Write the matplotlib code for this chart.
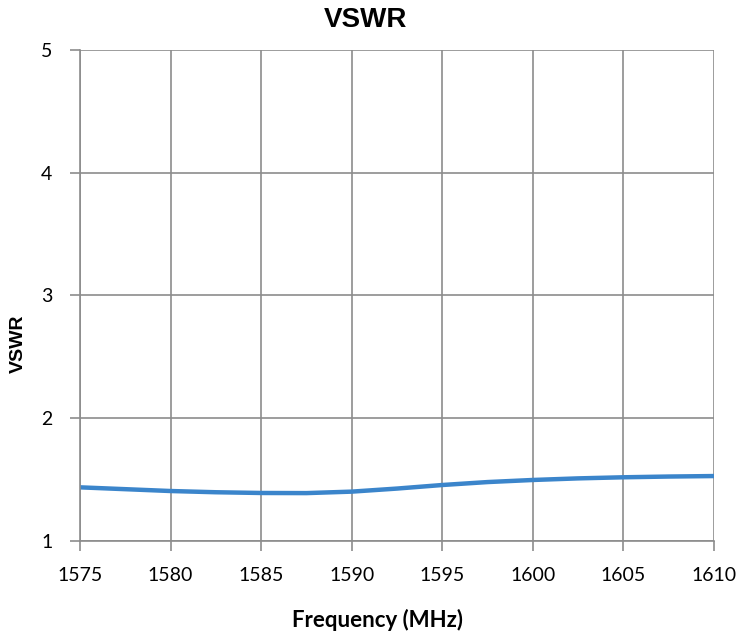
import matplotlib
matplotlib.use("Agg")
import matplotlib.pyplot as plt

freq = [1575, 1577.5, 1580, 1582.5, 1585, 1587.5, 1590, 1592.5, 1595, 1597.5, 1600, 1602.5, 1605, 1607.5, 1610]
vswr = [1.435, 1.42, 1.405, 1.395, 1.389, 1.388, 1.40, 1.425, 1.454, 1.478, 1.495, 1.508, 1.517, 1.523, 1.527]
xticks = [1575, 1580, 1585, 1590, 1595, 1600, 1605, 1610]
yticks = [1, 2, 3, 4, 5]

fig = plt.figure(figsize=(7.38, 6.38), dpi=100)
ax = fig.add_axes([80/738, 1-540.7/638, (714-80)/738, (540.7-50)/638])
ax.plot(freq, vswr, color="#3b85cb", lw=3.2, solid_capstyle="butt")
ax.set_xlim(1575, 1610)
ax.set_ylim(1, 5)
ax.set_xticks(xticks)
ax.set_yticks(yticks)
ax.grid(True, color="#8c8c8c", lw=1.2)
ax.set_axisbelow(True)
for s in ["top", "right"]:
    ax.spines[s].set_visible(False)
for s in ["left", "bottom"]:
    ax.spines[s].set_color("#8c8c8c")
    ax.spines[s].set_linewidth(1.2)
ax.tick_params(direction="out", length=7, width=1.2, color="#8c8c8c", labelsize=14)
ax.tick_params(axis="y", pad=13)
ax.tick_params(axis="x", pad=12)
for lab in ax.get_xticklabels() + ax.get_yticklabels():
    lab.set_family("Lato")
fig.text(378/738, 1-620/638, "Frequency (MHz)", family="Lato", fontweight="bold",
         fontsize=16, ha="center", va="center")
fig.text(18/738, 1-344/638, "VSWR", family="Liberation Sans", fontweight="bold",
         fontsize=14, ha="center", va="center", rotation=90)
fig.text(365/738, 1-20/638, "VSWR", family="Liberation Sans", fontweight="bold",
         fontsize=20, ha="center", va="center")
fig.savefig("out.png", dpi=100)
